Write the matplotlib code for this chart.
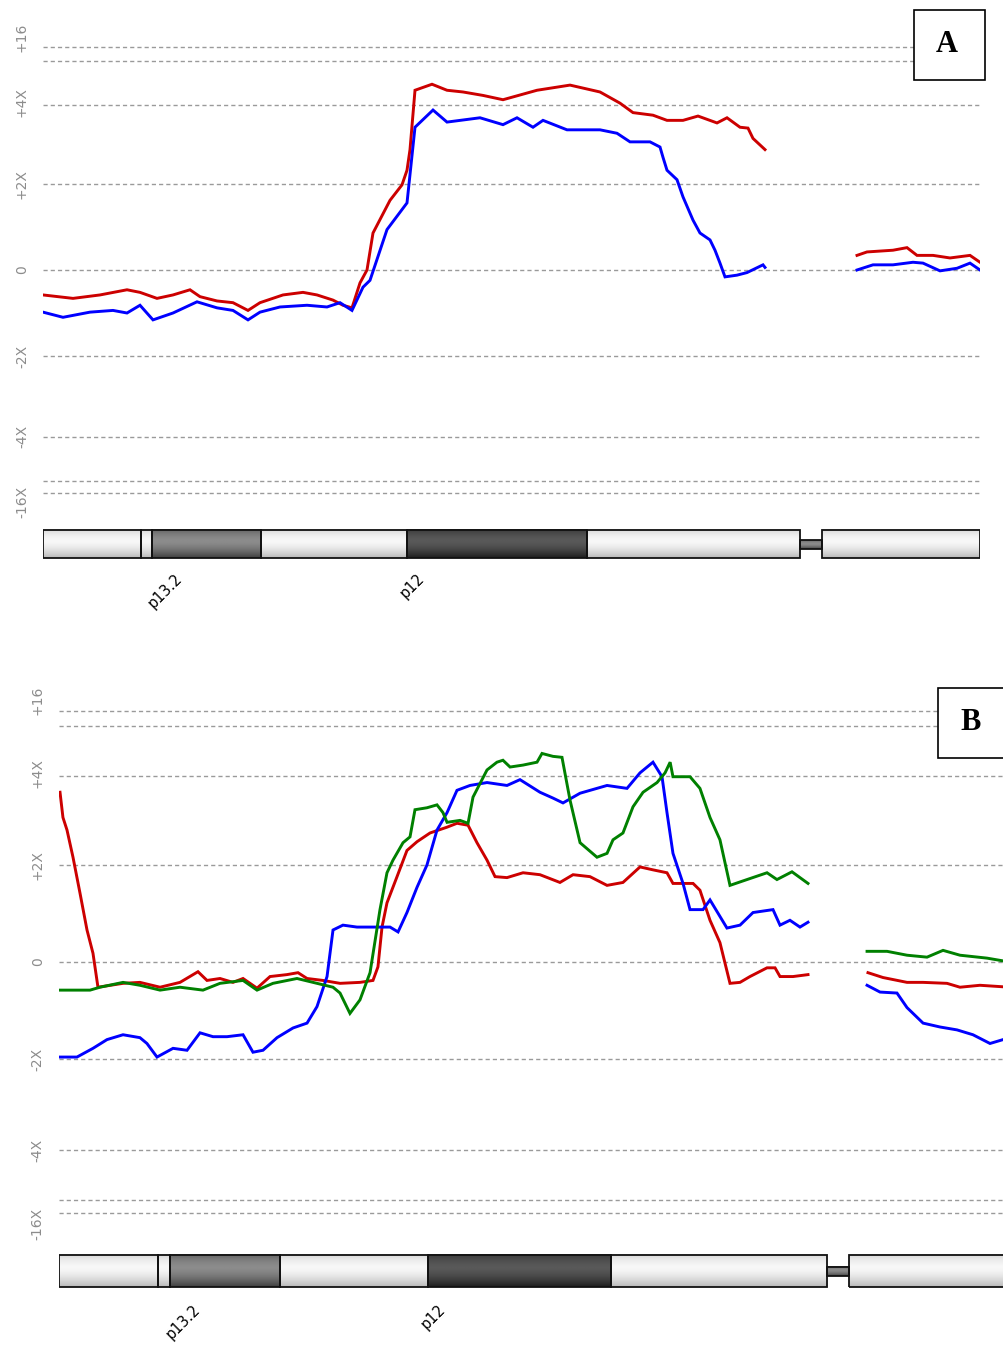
import numpy as np
import matplotlib.pyplot as plt
from matplotlib.patches import Rectangle

# ---- data (x = position along the chromosome, y = copy-number level units) ----
# panel A
a_red_pos = [0, 30, 57, 84, 97, 114, 130, 147, 157, 174, 190, 205, 217, 240, 260, 274, 290, 300, 309,
             317, 324, 330, 347, 359, 364, 367, 372, 389, 404, 420, 440, 460, 494, 527, 557, 577, 590,
             610, 624, 640, 655, 674, 684, 697, 705, 710, 722]
a_red_val = [-0.29, -0.33, -0.29, -0.23, -0.26, -0.33, -0.29, -0.23, -0.31, -0.36, -0.38, -0.47, -0.38,
             -0.29, -0.26, -0.29, -0.35, -0.41, -0.44, -0.15, 0.0, 0.43, 0.81, 0.99, 1.16, 1.40, 2.09,
             2.16, 2.09, 2.07, 2.03, 1.98, 2.09, 2.15, 2.07, 1.94, 1.83, 1.80, 1.74, 1.74, 1.79, 1.71,
             1.77, 1.66, 1.65, 1.53, 1.40]
a_blue_pos = [0, 20, 47, 70, 84, 97, 110, 130, 154, 174, 190, 205, 217, 237, 264, 284, 297, 309, 320,
              327, 344, 364, 372, 390, 404, 437, 460, 474, 490, 500, 524, 557, 574, 587, 607, 617, 620,
              624, 634, 640, 650, 657, 667, 672, 677, 682, 694, 704, 720, 722]
a_blue_val = [-0.49, -0.55, -0.49, -0.47, -0.50, -0.41, -0.58, -0.50, -0.37, -0.44, -0.47, -0.58, -0.49,
              -0.43, -0.41, -0.43, -0.38, -0.47, -0.20, -0.12, 0.47, 0.78, 1.66, 1.86, 1.72, 1.77, 1.69,
              1.77, 1.66, 1.74, 1.63, 1.63, 1.59, 1.49, 1.49, 1.43, 1.31, 1.16, 1.05, 0.85, 0.58, 0.43,
              0.35, 0.23, 0.08, -0.08, -0.06, -0.03, 0.06, 0.03]
a_red_q_pos = [814, 824, 850, 864, 874, 890, 907, 927, 937]
a_red_q_val = [0.17, 0.21, 0.23, 0.26, 0.17, 0.17, 0.14, 0.17, 0.09]
a_blue_q_pos = [814, 830, 850, 870, 880, 897, 914, 927, 937]
a_blue_q_val = [0.0, 0.06, 0.06, 0.09, 0.08, -0.01, 0.02, 0.08, 0.0]

# panel B
b_red_pos = [1.0, 3.9, 7.9, 13.8, 20.7, 27.6, 33.5, 38.4, 63.1, 79.8, 99.6, 119.3, 137.0, 145.9, 158.7,
             171.5, 181.4, 195.2, 208.0, 224.7, 235.6, 244.5, 260.2, 277.0, 296.7, 309.5, 314.4, 318.4,
             323.3, 333.2, 343.0, 352.9, 365.7, 382.5, 392.3, 403.2, 412.0, 421.9, 429.8, 441.6, 457.4,
             474.1, 493.8, 506.7, 523.4, 540.2, 555.9, 572.7, 585.5, 599.3, 605.2, 625.0, 631.8, 641.7,
             651.5, 661.4, 671.3, 681.1, 697.9, 705.8, 710.7, 723.5, 738.3]
b_red_val = [1.75, 1.49, 1.36, 1.08, 0.71, 0.33, 0.09, -0.26, -0.22, -0.21, -0.26, -0.21, -0.10, -0.19,
             -0.17, -0.21, -0.17, -0.27, -0.15, -0.13, -0.11, -0.17, -0.19, -0.22, -0.21, -0.19, -0.05,
             0.36, 0.61, 0.88, 1.15, 1.24, 1.33, 1.39, 1.43, 1.41, 1.23, 1.05, 0.88, 0.87, 0.92, 0.90,
             0.82, 0.90, 0.88, 0.79, 0.82, 0.98, 0.95, 0.92, 0.81, 0.81, 0.74, 0.43, 0.20, -0.22, -0.21,
             -0.15, -0.06, -0.06, -0.15, -0.15, -0.13]
b_green_pos = [1.0, 13.8, 30.6, 40.4, 63.1, 79.8, 99.6, 119.3, 141.9, 158.7, 181.4, 195.2, 210.9, 234.6,
               254.3, 270.1, 277.0, 286.8, 296.7, 306.6, 316.4, 323.3, 329.2, 339.1, 346.0, 350.9, 362.7,
               372.6, 378.5, 382.5, 395.3, 403.2, 408.1, 421.9, 431.7, 437.6, 444.6, 457.4, 471.2, 476.1,
               486.9, 495.8, 503.7, 513.6, 530.3, 540.2, 546.1, 555.9, 565.8, 575.7, 589.5, 597.4, 602.4,
               605.2, 622.0, 631.8, 641.7, 651.5, 661.4, 678.2, 697.9, 707.7, 722.5, 738.3]
b_green_val = [-0.29, -0.29, -0.29, -0.26, -0.21, -0.24, -0.29, -0.26, -0.29, -0.22, -0.19, -0.29, -0.22,
               -0.17, -0.22, -0.26, -0.32, -0.53, -0.39, -0.11, 0.54, 0.92, 1.05, 1.23, 1.29, 1.57, 1.59,
               1.62, 1.54, 1.44, 1.46, 1.43, 1.70, 1.98, 2.06, 2.08, 2.01, 2.03, 2.06, 2.15, 2.12, 2.11,
               1.67, 1.23, 1.08, 1.12, 1.26, 1.33, 1.60, 1.75, 1.85, 1.95, 2.06, 1.91, 1.91, 1.79, 1.49,
               1.26, 0.79, 0.85, 0.92, 0.85, 0.93, 0.81]
b_blue_pos = [1.0, 17.7, 33.5, 47.3, 63.1, 79.8, 86.7, 96.6, 112.4, 126.2, 139.0, 151.8, 165.6, 181.4,
              191.2, 201.1, 214.9, 230.7, 244.5, 254.3, 264.2, 270.1, 279.9, 293.7, 309.5, 326.3, 334.2,
              343.0, 352.9, 362.7, 372.6, 382.5, 392.3, 405.1, 421.9, 441.6, 454.4, 474.1, 486.9, 496.8,
              513.6, 540.2, 559.9, 572.7, 585.5, 594.4, 599.3, 605.2, 615.1, 622.0, 634.8, 641.7, 658.4,
              671.3, 684.1, 703.8, 710.7, 720.5, 730.4, 738.3]
b_blue_val = [-0.98, -0.98, -0.89, -0.80, -0.75, -0.78, -0.84, -0.98, -0.89, -0.91, -0.73, -0.77, -0.77,
              -0.75, -0.93, -0.91, -0.78, -0.68, -0.63, -0.46, -0.15, 0.33, 0.38, 0.36, 0.36, 0.36, 0.31,
              0.51, 0.77, 1.00, 1.36, 1.54, 1.77, 1.82, 1.85, 1.82, 1.88, 1.75, 1.69, 1.64, 1.74, 1.82,
              1.79, 1.95, 2.06, 1.91, 1.54, 1.12, 0.81, 0.54, 0.54, 0.64, 0.35, 0.38, 0.51, 0.54, 0.38,
              0.43, 0.36, 0.41]
b_green_q_pos = [796.5, 816.2, 835.9, 855.6, 871.4, 888.1, 914.7, 937]
b_green_q_val = [0.11, 0.11, 0.07, 0.05, 0.12, 0.07, 0.04, 0.0]
b_red_q_pos = [797.4, 812.2, 835.9, 851.7, 875.3, 888.1, 907.8, 937]
b_red_q_val = [-0.11, -0.16, -0.21, -0.21, -0.22, -0.26, -0.24, -0.26]
b_blue_q_pos = [796.5, 809.3, 826.0, 835.9, 851.7, 868.4, 885.2, 900.9, 917.7, 937]
b_blue_q_val = [-0.24, -0.31, -0.32, -0.47, -0.63, -0.67, -0.70, -0.75, -0.84, -0.78]

# axis levels and labels
grid_levels = [2.59, 2.43, 1.92, 1.0, 0.0, -1.0, -1.94, -2.45, -2.59]
tick_levels = [2.70, 1.95, 1.0, 0.0, -1.0, -1.94, -2.70]
tick_labels = ['+16', '+4X', '+2X', '0', '-2X', '-4X', '-16X']

# cytobands: start, end, stain
band_start = [0, 98, 109, 218, 364, 544, 779]
band_end = [98, 109, 218, 364, 544, 757, 937]
band_stain = ['light', 'light', 'gpos50', 'light', 'gpos100', 'light', 'light']
centromere = (757, 779)
band_names = ['p13.2', 'p12']
band_label_pos = [137, 379]

CHROM_LEN = 937
RED, BLUE, GREEN = '#cc0000', '#0000ff', '#008000'

W, H = 1004, 1347
fig = plt.figure(figsize=(W / 100, H / 100), dpi=100)


def band_shading(stain):
    t = np.linspace(0, 1, 60)
    edge = np.abs(t - 0.4) / 0.6
    if stain == 'light':
        mid, rim = 0.97, 0.72
    elif stain == 'gpos50':
        mid, rim = 0.55, 0.25
    else:
        mid, rim = 0.35, 0.12
    return (mid + (rim - mid) * edge ** 1.6).reshape(-1, 1)


def draw_ideogram(ax, top=-3.02, bottom=-3.35):
    for s, e, st in zip(band_start, band_end, band_stain):
        ax.imshow(band_shading(st), cmap='gray', vmin=0, vmax=1, aspect='auto',
                  extent=(s, e, bottom, top), interpolation='bilinear', zorder=2)
        ax.add_patch(Rectangle((s, bottom), e - s, top - bottom, fill=False,
                               ec='#111111', lw=1.3, zorder=3))
    c0, c1 = centromere
    ctop, cbot = top - 0.12, bottom + 0.11
    ax.imshow(band_shading('gpos50'), cmap='gray', vmin=0, vmax=1, aspect='auto',
              extent=(c0, c1, cbot, ctop), interpolation='bilinear', zorder=2)
    ax.add_patch(Rectangle((c0, cbot), c1 - c0, ctop - cbot, fill=False,
                           ec='#111111', lw=1.3, zorder=3))
    for name, x in zip(band_names, band_label_pos):
        ax.text(x, -3.56, name, rotation=45, rotation_mode='anchor', ha='right',
                va='center', fontsize=10.5, color='black', family='DejaVu Sans')


def draw_panel(ax, lines, letter_box):
    for lv in grid_levels:
        ax.plot([0, CHROM_LEN], [lv, lv], color='#9a9a9a', lw=1.0,
                dashes=(3, 2.2), zorder=1)
    for lv, lab in zip(tick_levels, tick_labels):
        ax.text(-21, lv, lab, rotation=90, ha='center', va='center', fontsize=10,
                color='#8c8c8c', clip_on=False, family='DejaVu Sans')
    for x, y, c in lines:
        ax.plot(x, y, color=c, lw=2.1, zorder=4, solid_joinstyle='miter')
    draw_ideogram(ax)
    ax.set_xlim(0, CHROM_LEN)
    ax.axis('off')

    # letter box (figure pixels)
    bx, by, bw, bh, letter = letter_box
    fig.add_artist(Rectangle((bx / W, 1 - (by + bh) / H), bw / W, bh / H,
                             transform=fig.transFigure, fc='white', ec='black',
                             lw=1.2, zorder=10))
    fig.text((bx + 33) / W, 1 - (by + bh / 2) / H, letter, ha='center', va='center',
             fontsize=22, fontweight='bold', family='Liberation Serif', zorder=11)


# panel A: x 43..980 px, zero at y=270, 86 px per level
axA = fig.add_axes([43 / W, 1 - 620 / H, 937 / W, 620 / H])
axA.set_ylim((270 - 620) / 86, 270 / 86)
draw_panel(axA, [(a_red_pos, a_red_val, RED), (a_blue_pos, a_blue_val, BLUE),
                 (a_red_q_pos, a_red_q_val, RED), (a_blue_q_pos, a_blue_q_val, BLUE)],
           (914, 10, 71, 70, 'A'))

# panel B: x 59.. px (1.0145 px per unit), zero at y=962, 97 px per level
axB = fig.add_axes([59 / W, 1 - 1347 / H, 937 * 1.0145 / W, (1347 - 660) / H])
axB.set_ylim((962 - 1347) / 97, (962 - 660) / 97)
draw_panel(axB, [(b_red_pos, b_red_val, RED), (b_blue_pos, b_blue_val, BLUE),
                 (b_green_pos, b_green_val, GREEN),
                 (b_red_q_pos, b_red_q_val, RED), (b_blue_q_pos, b_blue_q_val, BLUE),
                 (b_green_q_pos, b_green_q_val, GREEN)],
           (938, 688, 75, 70, 'B'))

fig.savefig('out.png', dpi=100, facecolor='white')
